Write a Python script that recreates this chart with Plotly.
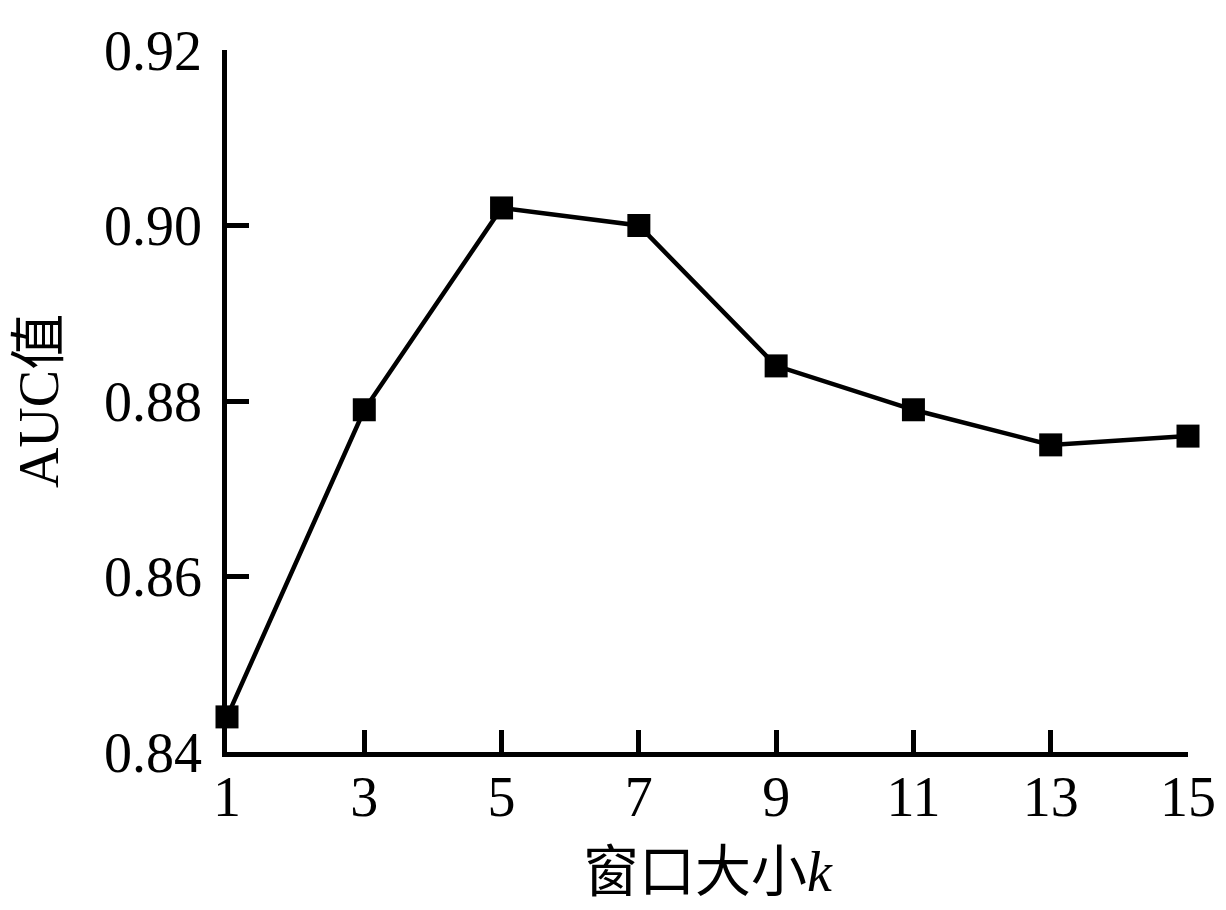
import plotly.graph_objects as go

window_k = [1, 3, 5, 7, 9, 11, 13, 15]
auc_values = [0.844, 0.879, 0.902, 0.900, 0.884, 0.879, 0.875, 0.876]
x_ticks = [1, 3, 5, 7, 9, 11, 13, 15]
y_ticks = [0.84, 0.86, 0.88, 0.90, 0.92]
y_tick_labels = ["0.84", "0.86", "0.88", "0.90", "0.92"]

FONT = "Liberation Serif, Times New Roman, Noto Sans CJK SC, serif"

fig = go.Figure()
fig.add_trace(go.Scatter(
    x=window_k, y=auc_values, mode="lines+markers",
    line=dict(color="black", width=4.5),
    marker=dict(symbol="square", size=23, color="black"),
    cliponaxis=False, showlegend=False,
))

fig.update_layout(
    width=1226, height=910,
    margin=dict(l=218, r=46, t=33, b=166),
    paper_bgcolor="white", plot_bgcolor="white",
    font=dict(family=FONT, size=56, color="black"),
    xaxis=dict(
        range=[1, 15], tickmode="array", tickvals=x_ticks,
        ticks="inside", ticklen=22, tickwidth=4.5, tickcolor="black",
        showline=True, linewidth=4.5, linecolor="black",
        showgrid=False, zeroline=False, ticklabelstandoff=-8,
        tickfont=dict(family=FONT, size=56),
        title=dict(text="窗口大小<i>k</i>", standoff=26,
                   font=dict(family=FONT, size=56)),
    ),
    yaxis=dict(
        range=[0.84, 0.92], tickmode="array", tickvals=y_ticks,
        ticktext=y_tick_labels,
        ticks="inside", ticklen=22, tickwidth=4.5, tickcolor="black",
        showline=True, linewidth=4.5, linecolor="black",
        showgrid=False, zeroline=False, ticklabelstandoff=9,
        tickfont=dict(family=FONT, size=56),
        title=dict(text="AUC值", standoff=45,
                   font=dict(family=FONT, size=56)),
    ),
)

fig.write_html("out.html")
